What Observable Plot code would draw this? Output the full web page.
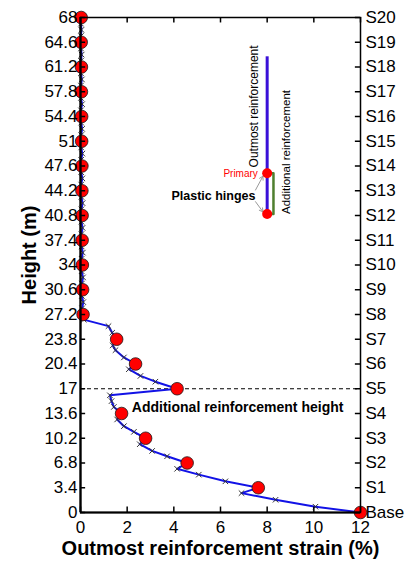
<!DOCTYPE html>
<html>
<head>
<meta charset="utf-8">
<script src="https://cdn.jsdelivr.net/npm/d3@7"></script>
<script src="https://cdn.jsdelivr.net/npm/@observablehq/plot@0.6"></script>
<style>
  html, body { margin: 0; padding: 0; background: #fff; }
  #chart svg { display: block; font-family: "Liberation Sans", Arial, sans-serif; }
</style>
</head>
<body>
<div id="chart"></div>
<script>
// ---- data ----
const heightTicks = [0, 3.4, 6.8, 10.2, 13.6, 17, 20.4, 23.8, 27.2, 30.6, 34, 37.4, 40.8, 44.2, 47.6, 51, 54.4, 57.8, 61.2, 64.6, 68];
const storyLabels = ["Base", "S1", "S2", "S3", "S4", "S5", "S6", "S7", "S8", "S9", "S10", "S11", "S12", "S13", "S14", "S15", "S16", "S17", "S18", "S19", "S20"];
const strainTicks = [0, 2, 4, 6, 8, 10, 12];

// strain at each story level (red dots)
const storyStrain = [12, 7.62, 4.57, 2.79, 1.76, 4.14, 2.36, 1.55, 0.11, 0.09, 0.08, 0.07, 0.07, 0.06, 0.06, 0.05, 0.05, 0.04, 0.04, 0.03, 0.03];

// strain profile along the height (blue line with x markers)
const profileHeight = [0, 0.8, 1.75, 2.66, 3.4, 4.28, 5.2, 6.0, 6.8, 7.72, 8.46, 9.38, 10.2, 11.08, 11.86, 12.78, 13.6, 14.5, 15.3, 16.1, 17, 17.97, 18.76, 19.68, 20.4, 21.3, 22.3, 22.95, 23.8, 24.7, 25.6, 26.5, 27.2,
  28.05, 28.9, 29.75, 30.6, 31.45, 32.3, 33.15, 34, 34.85, 35.7, 36.55, 37.4, 38.25, 39.1, 39.95, 40.8, 41.65, 42.5, 43.35, 44.2, 45.05, 45.9, 46.75, 47.6,
  48.45, 49.3, 50.15, 51, 51.85, 52.7, 53.55, 54.4, 55.25, 56.1, 56.95, 57.8, 58.65, 59.5, 60.35, 61.2, 62.05, 62.9, 63.75, 64.6, 65.45, 66.3, 67.15, 68];
const profileStrain = [12, 10.07, 8.36, 6.9, 7.62, 6.21, 5.07, 4.14, 4.57, 3.71, 3.07, 2.54, 2.79, 2.29, 1.86, 1.57, 1.76, 1.43, 1.33, 1.26, 4.14, 3.21, 2.57, 2.07, 2.36, 1.86, 1.5, 1.38, 1.55, 1.36, 1.2, 0.14, 0.11,
  0.07, 0.12, 0.06, 0.09, 0.06, 0.11, 0.05, 0.08, 0.05, 0.1, 0.05, 0.07, 0.04, 0.09, 0.04, 0.07, 0.04, 0.09, 0.04, 0.06, 0.03, 0.08, 0.03, 0.06,
  0.03, 0.08, 0.03, 0.05, 0.03, 0.07, 0.03, 0.05, 0.02, 0.07, 0.02, 0.04, 0.02, 0.06, 0.02, 0.04, 0.02, 0.05, 0.02, 0.03, 0.02, 0.04, 0.02, 0.03];

const additionalHeight = 17;

// inset legend (schematic) positions in data units
const insetX = 8.0, insetGreenX = 8.27;
const insetTop = 62.6, insetPrimary = 46.6, insetSecondary = 41.0;

const xLabel = "Outmost reinforcement strain (%)";
const yLabel = "Height (m)";

const profile = profileHeight.map((h, i) => ({h, s: profileStrain[i]}));
const stories = heightTicks.map((h, i) => ({h, s: storyStrain[i], label: storyLabels[i]}));

const font = "Liberation Sans, Arial, sans-serif";

const chart = Plot.plot({
  width: 416,
  height: 566,
  marginLeft: 80,
  marginRight: 56,
  marginTop: 17,
  marginBottom: 54,
  style: {fontFamily: font, background: "#fff", color: "#000"},
  x: {domain: [0, 12], axis: null},
  y: {domain: [0, 68], axis: null},
  marks: [
    // dashed additional reinforcement height line
    Plot.ruleY([additionalHeight], {x1: 0, x2: 12, stroke: "#000", strokeWidth: 1, strokeDasharray: "4,3"}),
    // strain profile
    Plot.line(profile, {x: "s", y: "h", stroke: "#1212e6", strokeWidth: 2, curve: "linear"}),
    Plot.dot(profile, {x: "s", y: "h", symbol: "times", r: 2.6, stroke: "#333", strokeWidth: 1}),
    // story-level dots
    Plot.dot(stories, {x: "s", y: "h", r: 6.3, fill: "#ff0000", stroke: "#1a1a1a", strokeWidth: 0.8}),
    // annotation text
    Plot.text(["Additional reinforcement height"], {x: 2.2, y: 14.45, textAnchor: "start", fontWeight: "bold", fontSize: 14, fill: "#000"}),

    // inset schematic
    Plot.ruleX([insetX], {y1: insetSecondary, y2: insetTop, stroke: "#3a10d8", strokeWidth: 3}),
    Plot.line([[insetX + 0.07, insetPrimary], [insetGreenX, insetPrimary], [insetGreenX, insetSecondary], [insetX + 0.07, insetSecondary]], {stroke: "#4f7f2f", strokeWidth: 2.5}),
    Plot.arrow([{x1: 7.5, y1: 44.3, x2: 7.82, y2: 46.2}, {x1: 7.5, y1: 42.7, x2: 7.82, y2: 41.3}], {x1: "x1", y1: "y1", x2: "x2", y2: "y2", stroke: "#999", strokeWidth: 1, headLength: 6}),
    Plot.dot([[insetX, insetPrimary], [insetX, insetSecondary]], {r: 5, fill: "#ff0000", stroke: "none"}),
    Plot.text(["Outmost reinforcement"], {x: 7.45, y: 47.4, rotate: -90, textAnchor: "start", fontSize: 12, fill: "#000"}),
    Plot.text(["Additional reinforcement"], {x: 8.84, y: 41.0, rotate: -90, textAnchor: "start", fontSize: 11.5, fill: "#000"}),
    Plot.text(["Primary"], {x: 7.6, y: 46.5, textAnchor: "end", fontSize: 10, fill: "#ff0000"}),
    Plot.text(["Plastic hinges"], {x: 7.5, y: 43.45, textAnchor: "end", fontSize: 12.5, fontWeight: "bold", fill: "#000"}),

    // frame and inward ticks
    Plot.frame({stroke: "#000", strokeWidth: 1.5}),
    Plot.ruleX([0], {y1: 0, y2: 68, stroke: "#000", strokeWidth: 2.2}),
    Plot.ruleY([0], {x1: 0, x2: 12, stroke: "#000", strokeWidth: 2.2}),
    Plot.ruleY(heightTicks, {x1: 0, x2: 0.22, stroke: "#000", strokeWidth: 1.5}),
    Plot.ruleY(heightTicks, {x1: 12, x2: 11.78, stroke: "#000", strokeWidth: 1.5}),
    Plot.ruleX(strainTicks, {y1: 0, y2: 0.75, stroke: "#000", strokeWidth: 1.5}),
    Plot.ruleX(strainTicks, {y1: 68, y2: 67.25, stroke: "#000", strokeWidth: 1.5}),

    // tick labels
    Plot.text(heightTicks, {x: 0, y: d => d, text: d => String(d), dx: -3, textAnchor: "end", fontSize: 17, fill: "#000"}),
    Plot.text(stories, {x: 12, y: "h", text: "label", dx: 5, textAnchor: "start", fontSize: 17, fill: "#000"}),
    Plot.text(strainTicks, {x: d => d, y: 0, text: d => String(d), dy: 15, fontSize: 17, fill: "#000"}),

    // axis titles
    Plot.text([xLabel], {frameAnchor: "bottom", dy: 42, textAnchor: "middle", fontWeight: "bold", fontSize: 20, fill: "#000"}),
    Plot.text([yLabel], {frameAnchor: "left", dx: -51, dy: -10, rotate: -90, textAnchor: "middle", fontWeight: "bold", fontSize: 20, fill: "#000"})
  ]
});
document.getElementById("chart").appendChild(chart);
</script>
</body>
</html>
